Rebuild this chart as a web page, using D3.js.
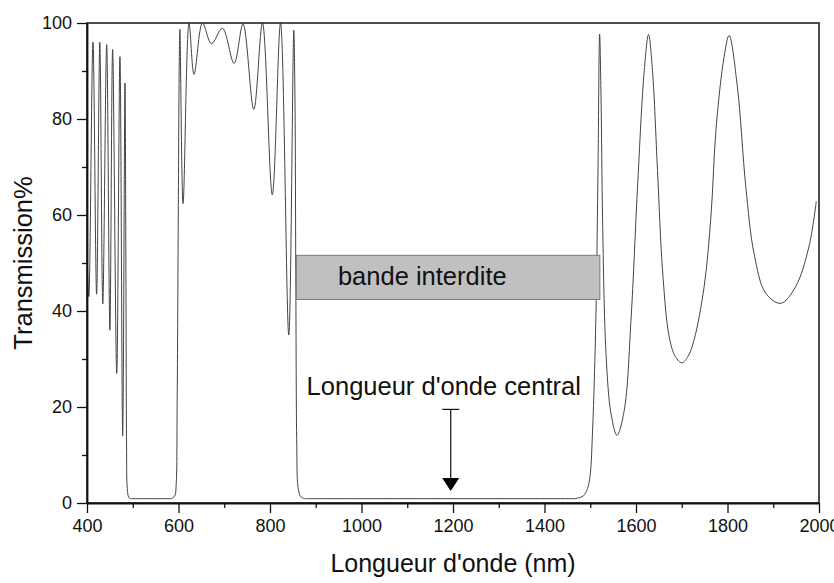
<!DOCTYPE html>
<html>
<head>
<meta charset="utf-8">
<script src="https://cdn.jsdelivr.net/npm/d3@7"></script>
<style>
  html, body { margin: 0; padding: 0; background: #fff; }
  svg { display: block; font-family: "Liberation Sans", Arial, sans-serif; }
</style>
</head>
<body>
<div id="chart"></div>
<script>
// transmission spectrum as [wavelength nm, transmission %]
// short-wavelength fringes
const fringesBlue = [
  [400, 52], [404, 43], [413, 96], [421, 43.5], [428, 96], [434.5, 41.5],
  [443, 95.5], [450, 36], [456, 94.5], [465, 27], [472, 93], [478, 14],
  [483, 87.5], [485, 50], [486.5, 12], [488, 3], [491, 1.2], [494, 0.95]
];
// first stop band (flat bottom) and its red edge
const stopBand1 = [
  [497, 0.9], [500, 0.9], [540, 0.9], [580, 0.9], [583, 0.9], [586, 0.95],
  [592, 1.5], [595, 4], [597, 20], [599.5, 60], [601.5, 90], [603, 98.7]
];
// fringes between the two bands
const fringesMid = [
  [610, 62.4], [623, 100], [634, 89.3], [652.5, 100], [672, 95.7], [696, 98.9],
  [721.5, 91.6], [741, 99.8], [764.5, 82], [783.5, 100], [805, 64.2], [823, 100],
  [841, 35], [852, 98.5], [854.5, 85], [856.5, 45], [858.5, 12], [861, 3.5],
  [866, 1.5], [871, 1.05]
];
// main stop band
const stopBand2 = [
  [876, 0.9], [881, 0.9], [1000, 0.9], [1200, 0.9], [1460, 0.9], [1466, 0.9],
  [1472, 1.0], [1485, 1.5], [1494, 3], [1500, 6], [1505, 15], [1509, 26],
  [1513, 42], [1517, 70], [1520.5, 97.7]
];
// long-wavelength fringes
const fringesRed = [
  [1523.5, 85], [1527, 58.9], [1534.4, 31.2], [1545.3, 18.7], [1558.4, 14.1],
  [1574.3, 19.3], [1589, 38], [1603.4, 65.9], [1618, 90.1], [1627.4, 97.6],
  [1636, 90.1], [1647, 69.3], [1658, 48.5], [1672.6, 34.6], [1686, 30.5],
  [1700.3, 29.2], [1714, 30.6], [1727, 34], [1749, 45.1], [1764, 60], [1775, 78],
  [1792.6, 93], [1803.5, 97.4], [1821.6, 86.7], [1840, 65.9], [1858, 52],
  [1883.6, 43.7], [1916.4, 41.6], [1949, 45.1], [1978, 53.4], [1994, 62.8]
];

const xTicks = [400, 600, 800, 1000, 1200, 1400, 1600, 1800, 2000];
const xMinor = [500, 700, 900, 1100, 1300, 1500, 1700, 1900];
const yTicks = [0, 20, 40, 60, 80, 100];
const yMinor = [10, 30, 50, 70, 90];

const xTitle = "Longueur d'onde (nm)";
const yTitle = "Transmission%";
const bandLabel = "bande interdite";
const centerLabel = "Longueur d'onde central";
const bandRange = [857.7, 1521];   // nm
const bandLevels = [42.4, 51.6];   // %
const centerWavelength = 1195;

const spectrum = [].concat(fringesBlue, stopBand1, fringesMid, stopBand2, fringesRed);

// set the dimensions and margins of the graph
const svgWidth = 834, svgHeight = 583;
const margin = { top: 23, right: 15, bottom: 80, left: 87 };
const width = svgWidth - margin.left - margin.right;
const height = svgHeight - margin.top - margin.bottom;

const root = d3.select("#chart")
  .append("svg")
  .attr("width", svgWidth)
  .attr("height", svgHeight);

root.append("defs").append("clipPath")
  .attr("id", "plot-clip")
  .append("rect")
  .attr("width", width)
  .attr("height", height);

const svg = root.append("g")
  .attr("transform", "translate(" + margin.left + "," + margin.top + ")");

const x = d3.scaleLinear().domain([400, 2000]).range([0, width]);
const y = d3.scaleLinear().domain([0, 100]).range([height, 0]);

// curve
const line = d3.line()
  .x(d => x(d[0]))
  .y(d => y(d[1]))
  .curve(d3.curveCatmullRom.alpha(0.5));

svg.append("path")
  .datum(spectrum)
  .attr("clip-path", "url(#plot-clip)")
  .attr("d", line)
  .attr("fill", "none")
  .attr("stroke", "#444")
  .attr("stroke-width", 1);

// frame (top and right)
svg.append("rect")
  .attr("x", 0).attr("y", 0)
  .attr("width", width).attr("height", height)
  .attr("fill", "none")
  .attr("stroke", "#222")
  .attr("stroke-width", 1.6);

// band box
svg.append("rect")
  .attr("x", x(bandRange[0]))
  .attr("y", y(bandLevels[1]))
  .attr("width", x(bandRange[1]) - x(bandRange[0]))
  .attr("height", y(bandLevels[0]) - y(bandLevels[1]))
  .attr("fill", "#c0c0c0")
  .attr("stroke", "#7a7a7a")
  .attr("stroke-width", 1);

svg.append("text")
  .attr("x", x(948.5))
  .attr("y", y(45.4))
  .attr("font-size", 25.5)
  .attr("fill", "#111")
  .text(bandLabel);

svg.append("text")
  .attr("x", x(880))
  .attr("y", y(22.4))
  .attr("font-size", 25.5)
  .attr("fill", "#111")
  .text(centerLabel);

// arrow to the central wavelength
const ax = x(centerWavelength);
const aTop = y(19.5), aTip = y(2.5);
svg.append("line")
  .attr("x1", ax - 8.5).attr("x2", ax + 8.5)
  .attr("y1", aTop).attr("y2", aTop)
  .attr("stroke", "#111").attr("stroke-width", 1.2);
svg.append("line")
  .attr("x1", ax).attr("x2", ax)
  .attr("y1", aTop).attr("y2", aTip - 12)
  .attr("stroke", "#111").attr("stroke-width", 1.2);
svg.append("path")
  .attr("d", "M" + (ax - 8.5) + "," + (aTip - 13) + "L" + (ax + 8.5) + "," + (aTip - 13) + "L" + ax + "," + aTip + "Z")
  .attr("fill", "#000");

// axes
svg.append("g")
  .attr("transform", "translate(0," + height + ")")
  .call(d3.axisBottom(x).tickValues(xTicks).tickSize(10).tickSizeOuter(0).tickPadding(6).tickFormat(d3.format("d")));
svg.append("g")
  .attr("transform", "translate(0," + height + ")")
  .call(d3.axisBottom(x).tickValues(xMinor).tickSize(5).tickFormat(""))
  .select(".domain").remove();

svg.append("g")
  .call(d3.axisLeft(y).tickValues(yTicks).tickSize(10).tickSizeOuter(0).tickPadding(5));
svg.append("g")
  .call(d3.axisLeft(y).tickValues(yMinor).tickSize(5).tickFormat(""))
  .select(".domain").remove();

svg.selectAll(".domain").attr("stroke", "#111").attr("stroke-width", 1.8);
svg.selectAll(".tick line").attr("stroke", "#111").attr("stroke-width", 1.3);
svg.selectAll(".tick text")
  .attr("font-size", 18)
  .attr("font-family", "'Liberation Sans', Arial, sans-serif")
  .attr("fill", "#111");

// axis titles
svg.append("text")
  .attr("text-anchor", "middle")
  .attr("x", width / 2)
  .attr("y", height + 69)
  .attr("font-size", 25)
  .attr("fill", "#111")
  .text(xTitle);

svg.append("text")
  .attr("text-anchor", "middle")
  .attr("transform", "translate(" + (-55) + "," + (height / 2) + ") rotate(-90)")
  .attr("font-size", 25.5)
  .attr("fill", "#111")
  .text(yTitle);
</script>
</body>
</html>
